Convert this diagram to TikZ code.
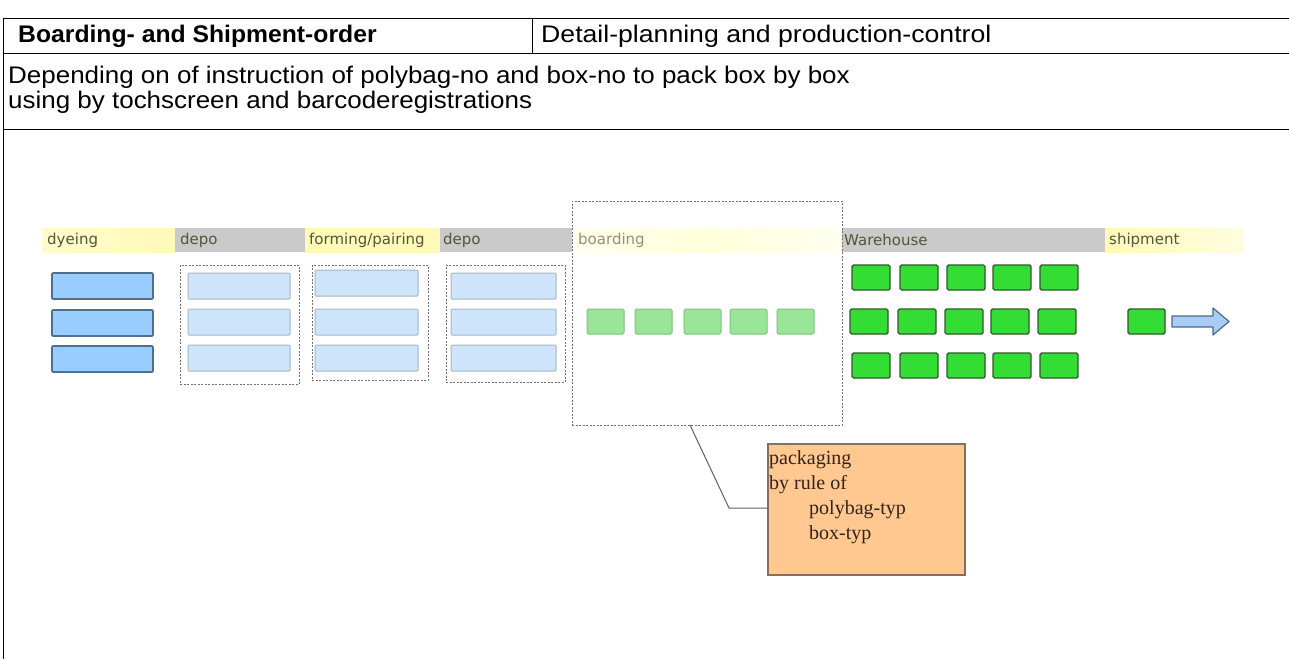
\documentclass[tikz,border=0pt]{standalone}
\usepackage{fontspec}
\setmainfont{Liberation Sans}
\newfontfamily\boxserif{Liberation Serif}
\newfontfamily\areasans[FakeStretch=1.11]{Liberation Sans}
\newfontfamily\widesans[FakeStretch=1.082]{Liberation Sans}
\newfontfamily\titlesans[FakeStretch=1.03]{Liberation Sans}
\newfontfamily\labelsans{DejaVu Sans}
\usetikzlibrary{calc}

\definecolor{rule}{HTML}{000000}
\definecolor{bandgray}{HTML}{CACACA}
\definecolor{bandyellow}{HTML}{FFFAB8}
\definecolor{labeltext}{HTML}{55553A}
\definecolor{dyefill}{HTML}{99CCFF}
\definecolor{dyeedge}{HTML}{4F6F8F}
\definecolor{depofill}{HTML}{CDE4FA}
\definecolor{depoedge}{HTML}{A6B6C6}
\definecolor{groupedge}{HTML}{707070}
\definecolor{palegreen}{HTML}{99E699}
\definecolor{palegreenedge}{HTML}{80C080}
\definecolor{brightgreen}{HTML}{33DD33}
\definecolor{brightgreenedge}{HTML}{2E5A2E}
\definecolor{notefill}{HTML}{FFC891}
\definecolor{noteedge}{HTML}{8A6E5C}
\definecolor{notetext}{HTML}{33241A}
\definecolor{arrowfill}{HTML}{A8CCF4}
\definecolor{arrowedge}{HTML}{4A6A90}

\tikzset{
  cell/.style={inner sep=0pt, outer sep=0pt, anchor=north west},
  graybandbox/.style={cell, fill=bandgray},
  yellowbandbox/.style={cell, left color=bandyellow!70, right color=bandyellow},
  bandlabel/.style={anchor=west, inner sep=0pt, text=labeltext, font=\labelsans\fontsize{15}{17}\selectfont},
  dyebox/.style={cell, fill=dyefill, draw=dyeedge, line width=1.6pt, rounded corners=1pt},
  depobox/.style={cell, fill=depofill, draw=depoedge, line width=1pt, rounded corners=1pt},
  groupbox/.style={cell, draw=groupedge, line width=1pt, dash pattern=on 2pt off 1.5pt},
  paleunit/.style={cell, fill=palegreen, draw=palegreenedge, line width=1pt, rounded corners=1.5pt,
    minimum width=37pt, minimum height=25pt},
  stockunit/.style={cell, fill=brightgreen, draw=brightgreenedge, line width=1.4pt, rounded corners=1.5pt,
    minimum width=38pt, minimum height=25pt},
  notebox/.style={cell, fill=notefill, draw=noteedge, line width=1.2pt},
  leader/.style={draw=gray!75!black, line width=1pt},
  tableline/.style={draw=rule, line width=1pt},
}

\begin{document}
\begin{tikzpicture}[x=1pt, y=-1pt]
\useasboundingbox (0,0) rectangle (1289,659);
\fill[white] (0,0) rectangle (1289,659);

% ---------- table frame ----------
\draw[tableline] (3,18) -- (1289,18);
\draw[tableline] (3,53) -- (1289,53);
\draw[tableline] (3,129) -- (1289,129);
\draw[tableline] (3,18) -- (3,659);
\draw[tableline] (532,18) -- (532,53);

\node[anchor=west, inner sep=0pt, font=\titlesans\bfseries\fontsize{24}{28}\selectfont] (title) at (18,36)
  {Boarding- and Shipment-order};
\node[anchor=west, inner sep=0pt, font=\areasans\fontsize{24}{28}\selectfont] (area) at (541,36)
  {Detail-planning and production-control};
\node[anchor=west, inner sep=0pt, align=left, font=\widesans\fontsize{24}{25}\selectfont] (desc) at (8,90)
  {Depending on of instruction of polybag-no and box-no to pack box by box\\
   using by tochscreen and barcoderegistrations};

% ---------- stage header bands ----------
\node[yellowbandbox, minimum width=133pt, minimum height=24pt] (bdye) at (42,228) {};
\node[graybandbox, minimum width=130pt, minimum height=24pt] (bdepo1) at (175,228) {};
\node[yellowbandbox, left color=bandyellow, minimum width=135pt, minimum height=24pt] (bform) at (305,228) {};
\node[graybandbox, minimum width=134pt, minimum height=24pt] (bdepo2) at (440,228) {};
\node[graybandbox, minimum width=263pt, minimum height=24pt] (bware) at (842,228) {};
\node[yellowbandbox, left color=bandyellow, right color=bandyellow!45, minimum width=138pt, minimum height=24pt] (bship) at (1105,228) {};

% boarding area (dotted frame with its own pale band)
\node[cell, fill=white, minimum width=270pt, minimum height=224pt] (boardbg) at (572,201) {};
\node[cell, left color=yellow!6, right color=yellow!6, middle color=yellow!14,
      minimum width=268pt, minimum height=24pt] (bboard) at (573,228) {};
\node[groupbox, minimum width=270pt, minimum height=224pt] (boardbox) at (572,201) {};

\node[bandlabel] at ($(bdye.west)+(5,0)$) {dyeing};
\node[bandlabel] at ($(bdepo1.west)+(5,0)$) {depo};
\node[bandlabel] at ($(bform.west)+(4,0)$) {forming/pairing};
\node[bandlabel] at ($(bdepo2.west)+(3,0)$) {depo};
\node[bandlabel, text=gray!70!yellow!80!black] at ($(bboard.west)+(5,0)$) {boarding};
\node[bandlabel] at ($(bware.west)+(2,0)$) {Warehouse};
\node[bandlabel] at ($(bship.west)+(4,0)$) {shipment};

% ---------- dyeing ----------
\foreach \i/\y in {1/273,2/310,3/346}
  \node[dyebox, minimum width=101pt, minimum height=26pt] (dye\i) at (52,\y) {};

% ---------- depo / forming groups ----------
\node[groupbox, minimum width=119pt, minimum height=119pt] (gdepo1) at (180,265) {};
\foreach \i/\y in {1/273,2/309,3/345}
  \node[depobox, minimum width=102pt, minimum height=26pt] (da\i) at (188,\y) {};

\node[groupbox, minimum width=116pt, minimum height=115pt] (gform) at (312,265) {};
\foreach \i/\y in {1/270,2/309,3/345}
  \node[depobox, minimum width=103pt, minimum height=26pt] (fp\i) at (315,\y) {};

\node[groupbox, minimum width=119pt, minimum height=117pt] (gdepo2) at (446,265) {};
\foreach \i/\y in {1/273,2/309,3/345}
  \node[depobox, minimum width=105pt, minimum height=26pt] (db\i) at (451,\y) {};

% ---------- boarding units ----------
\foreach \i/\x in {1/587,2/635,3/684,4/730,5/777}
  \node[paleunit] (bu\i) at (\x,309) {};

% ---------- warehouse stock ----------
\foreach \i/\x in {1/852,2/900,3/947,4/993,5/1040}{
  \node[stockunit] (wa\i) at (\x,265) {};
  \node[stockunit] (wc\i) at (\x,353) {};
}
\foreach \i/\x in {1/850,2/898,3/945,4/991,5/1038}
  \node[stockunit] (wb\i) at (\x,309) {};

% ---------- shipment ----------
\node[stockunit, minimum width=37pt] (ship) at (1128,309) {};
\draw[fill=arrowfill, draw=arrowedge, line width=1.2pt, line join=round]
  (1172,316) -- (1213,316) -- (1213,308) -- (1229,321.5) -- (1213,335) -- (1213,327) -- (1172,327) -- cycle;

% ---------- packaging rule note ----------
\node[notebox, minimum width=197pt, minimum height=131pt] (note) at (768,444) {};
\node[anchor=north west, inner sep=0pt, align=left, text=notetext,
      font=\boxserif\fontsize{20}{25}\selectfont] (notetxt) at ($(note.north west)+(1,6)$)
  {packaging\\by rule of\\\hspace*{40pt}polybag-typ\\\hspace*{40pt}box-typ};

\coordinate (leadstart) at ($(boardbox.south west)+(118,0)$);
\coordinate (leadbend) at (729,508);
\draw[leader] (leadstart) -- (leadbend) -- (note.west |- leadbend);

\end{tikzpicture}
\end{document}
